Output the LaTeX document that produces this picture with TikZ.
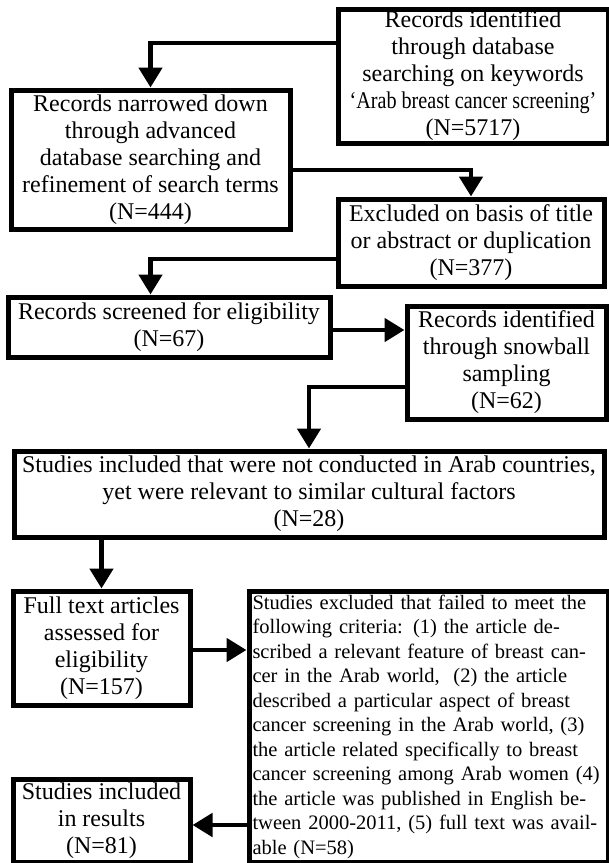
\documentclass[tikz,border=0pt]{standalone}
\usepackage{graphicx}
\usepackage{fontspec}
\setmainfont{Liberation Serif}
\usetikzlibrary{arrows.meta}
\newcommand{\jline}[1]{\makebox[352pt][s]{#1}}

\begin{document}
\begin{tikzpicture}[
					x=1pt, y=-1pt,
					every node/.style={draw, line width=5pt, inner sep=1pt, align=center, font=\fontsize{24}{27}\selectfont},
					arr/.style={line width=4.8pt, -{Triangle[width=23pt,length=20pt]}}
				]
				\useasboundingbox (0,0) rectangle (609,863);
				\node[minimum width=270pt, minimum height=134pt] (a) at (473,76) {Records identified\\through database\\searching on keywords\\\scalebox{0.84}[1]{`Arab breast cancer screening'}\\(N=5717)};
				\node[minimum width=279pt, minimum height=139pt] (b) at (150.5,159.5) {Records narrowed down\\through advanced\\database searching and\\refinement of search terms\\(N=444)};
				\node[minimum width=266pt, minimum height=87pt] (c) at (471,242.5) {Excluded on basis of title\\or abstract or duplication\\(N=377)};
				\node[minimum width=322pt, minimum height=60pt] (d) at (169,327) {Records screened for eligibility\\(N=67)};
				\node[minimum width=199pt, minimum height=113pt] (e) at (506.5,362.5) {Records identified\\through snowball\\sampling\\(N=62)};
				\node[minimum width=590pt, minimum height=86pt] (f) at (309,494) {Studies included that were not conducted in Arab countries,\\yet were relevant to similar cultural factors\\(N=28)};
				\node[minimum width=177pt, minimum height=114pt] (g) at (101.5,648) {Full text articles\\assessed for\\eligibility\\(N=157)};
				\node[minimum width=359pt, minimum height=271pt, text width=352pt, align=left, font=\fontsize{20.5}{24.5}\selectfont] (h) at (428.5,726.5) {\jline{Studies excluded that failed to meet the}\\\jline{following criteria: (1) the article de-}\\\jline{scribed a relevant feature of breast can-}\\\jline{cer in the Arab world, \ (2) the article}\\\jline{described a particular aspect of breast}\\\jline{cancer screening in the Arab world, (3)}\\\jline{the article related specifically to breast}\\\jline{cancer screening among Arab women (4)}\\\jline{the article was published in English be-}\\\jline{tween 2000-2011, (5) full text was avail-}\\able (N=58)};
				\node[minimum width=177pt, minimum height=83pt] (i) at (101.5,820.5) {Studies included\\in results\\(N=81)};
				\draw[arr] ([yshift=33pt]a.west) -| (b.north);
				\draw[arr] ([yshift=-10.5pt]b.east) -| (c.north);
				\draw[arr] ([yshift=-16.5pt]c.west) -| (b.south |- d.north);
				\draw[arr] ([yshift=-3pt]d.east) -- ([yshift=-3pt]d.east -| e.west);
				\draw[arr] ([yshift=-24.5pt]e.west) -| (f.north);
				\draw[arr] (g.north |- f.south) -- (g.north);
				\draw[arr] ([yshift=-2pt]g.east) -- ([yshift=-2pt]g.east -| h.west);
				\draw[arr] ([yshift=-4.5pt]i.east -| h.west) -- ([yshift=-4.5pt]i.east);
			\end{tikzpicture}
\end{document}
